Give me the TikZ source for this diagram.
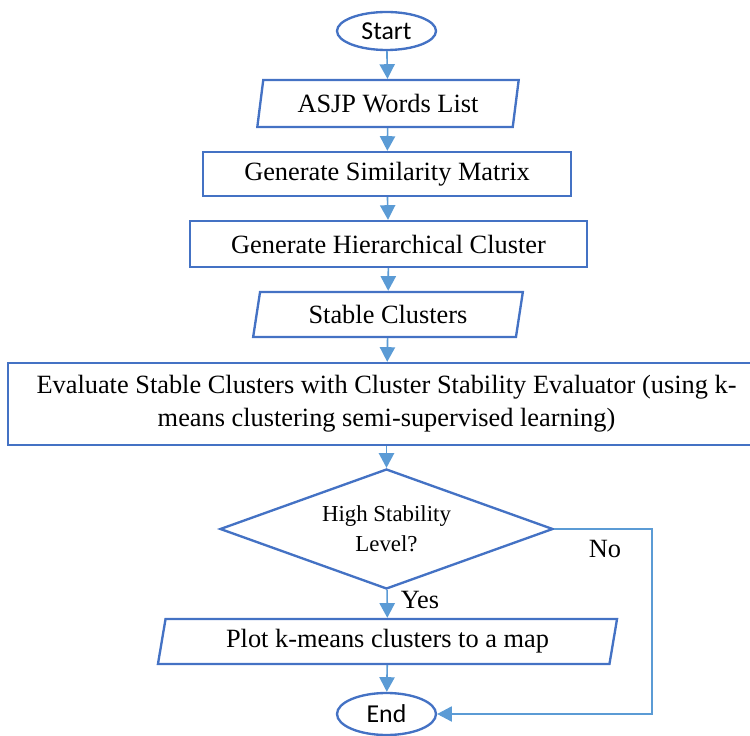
\documentclass[tikz,border=0pt]{standalone}
\usepackage{fontspec}
\setmainfont{Liberation Serif}
\newfontfamily\termfont{Carlito}
\usetikzlibrary{shapes.geometric, arrows.meta}

\definecolor{boxblue}{RGB}{68,114,196}
\definecolor{linkblue}{RGB}{91,155,213}

\tikzset{
    box/.style = {draw = boxblue, line width = 2pt, inner sep = 0pt, align = center, font = \fontsize{22.5}{28}\selectfont},
    io/.style = {box, trapezium, trapezium left angle = 77, trapezium right angle = 103, trapezium stretches = true},
    terminal/.style = {box, ellipse, minimum width = 2.97cm, minimum height = 1.14cm, font = \termfont\fontsize{22}{26}\selectfont},
    decision/.style = {box, diamond, aspect = 2.775, minimum width = 9.99cm, minimum height = 3.6cm, font = \fontsize{19.5}{25.5}\selectfont},
    link/.style = {-{Triangle[length = 12.5pt, width = 13pt]}, draw = linkblue, line width = 1.4pt},
    tag/.style = {font = \fontsize{22.5}{28}\selectfont}
}

\begin{document}
\begin{tikzpicture}[x = 0.03cm, y = -0.03cm]
    \useasboundingbox (0, 0) rectangle (750, 736);

    \node[terminal] (start) at (386.5, 31) {Start};
    \node[io, minimum width = 7.86cm, minimum height = 1.41cm] (words) at (388, 103.5) {ASJP Words List};
    \node[box, rectangle, minimum width = 11.04cm, minimum height = 1.32cm] (simmat) at (387, 174) {Generate Similarity Matrix};
    \node[box, rectangle, minimum width = 11.91cm, minimum height = 1.38cm] (hier) at (388.5, 244) {Generate Hierarchical Cluster};
    \node[io, minimum width = 8.1cm, minimum height = 1.35cm] (stable) at (388, 314.5) {Stable Clusters};
    \node[box, rectangle, minimum width = 22.71cm, minimum height = 2.46cm] (evaluate) at (386.5, 404) {Evaluate Stable Clusters with Cluster Stability Evaluator (using k-\\means clustering semi-supervised learning)};
    \node[decision] (level) at (386.5, 529) {High Stability\\Level?};
    \node[io, minimum width = 13.83cm, minimum height = 1.35cm] (plot) at (387.5, 641.5) {Plot k-means clusters to a map};
    \node[terminal, minimum height = 1.26cm] (end) at (386.5, 714) {End};

    \draw[link] (start) -- (words);
    \draw[link] (words) -- (simmat);
    \draw[link] (simmat) -- (hier);
    \draw[link] (hier) -- (stable);
    \draw[link] (stable) -- (evaluate);
    \draw[link] (evaluate) -- (level);
    \draw[link] (level) -- (plot);
    \draw[link] (plot) -- (end);

    \coordinate (noturn) at (652, 714);
    \draw[link, line width = 0.9pt] (level.east) -| (noturn) -- (end.east);

    \node[tag] (yes) at (420, 600) {Yes};
    \node[tag] (no) at (605, 549) {No};
\end{tikzpicture}
\end{document}
